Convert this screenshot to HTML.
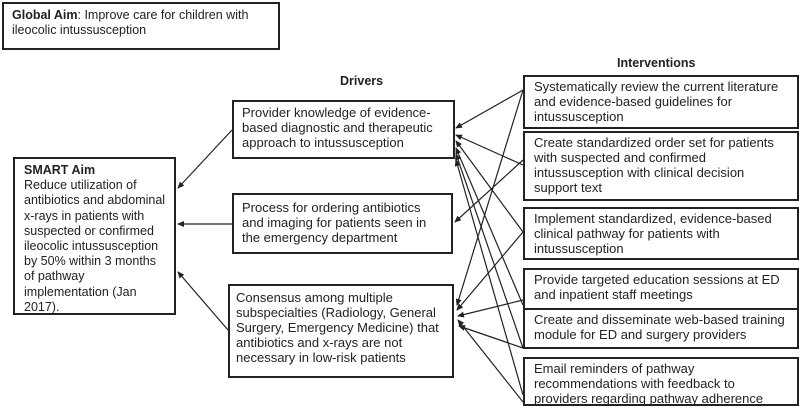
<!DOCTYPE html>
<html><head><style>
body{margin:0;width:800px;height:417px;background:#fff;position:relative;font-family:"Liberation Sans",Arial,sans-serif;color:#222;overflow:hidden}
.b{position:absolute;border:2px solid #222;box-sizing:border-box;font-size:12.5px;line-height:15px;padding:3px 8px}
.i{font-size:13px;line-height:15px;padding:2px 8px 0 9px}
.h{position:absolute;font-weight:bold;font-size:12.5px}
svg{position:absolute;left:0;top:0}
</style></head><body>
<div class="b" style="left:2px;top:2px;width:278px;height:48px;padding:4px 8px">
<b>Global Aim</b>: Improve care for children with ileocolic intussusception</div>
<div class="b" style="left:13px;top:157px;width:163px;height:158px;padding:4px 8px 0 9px;line-height:15.2px"><b>SMART Aim</b><br>Reduce utilization of antibiotics and abdominal x-rays in patients with suspected or confirmed ileocolic intussusception by 50% within 3 months of pathway implementation (Jan 2017).</div>
<div class="h" style="left:340px;top:74px">Drivers</div>
<div class="h" style="left:617px;top:56px">Interventions</div>
<div class="b" style="left:232px;top:100px;width:223px;height:59px;padding:3px 8px;font-size:13px">Provider knowledge of evidence-based diagnostic and therapeutic approach to intussusception</div>
<div class="b" style="left:232px;top:193px;width:221px;height:61px;padding:5px 8px;font-size:13px">Process for ordering antibiotics and imaging for patients seen in the emergency department</div>
<div class="b" style="left:228px;top:284px;width:226px;height:94px;padding:4px 6px;font-size:13px">Consensus among multiple subspecialties (Radiology, General Surgery, Emergency Medicine) that antibiotics and x-rays are not necessary in low-risk patients</div>
<div class="b i" style="left:523px;top:75px;width:276px;height:54px">Systematically review the current literature and evidence-based guidelines for intussusception</div>
<div class="b i" style="left:523px;top:131px;width:276px;height:70px">Create standardized order set for patients with suspected and confirmed intussusception with clinical decision support text</div>
<div class="b i" style="left:523px;top:207px;width:276px;height:53px">Implement standardized, evidence-based clinical pathway for patients with intussusception</div>
<div class="b i" style="left:523px;top:268px;width:276px;height:42px">Provide targeted education sessions at ED and inpatient staff meetings</div>
<div class="b i" style="left:523px;top:308px;width:276px;height:41px">Create and disseminate web-based training module for ED and surgery providers</div>
<div class="b i" style="left:523px;top:357px;width:276px;height:49px">Email reminders of pathway recommendations with feedback to providers regarding pathway adherence</div>
<svg width="800" height="417">
<defs><marker id="a" markerWidth="7" markerHeight="6" refX="6" refY="3" orient="auto" markerUnits="userSpaceOnUse"><path d="M0,0L7,3L0,6z" fill="#222"/></marker></defs>
<g stroke="#222" stroke-width="1.2" fill="none" marker-end="url(#a)">
<line x1="232" y1="130" x2="178" y2="188"/>
<line x1="232" y1="224" x2="178" y2="224"/>
<line x1="228" y1="330" x2="178" y2="272"/>
<line x1="523" y1="90" x2="456" y2="128"/>
<line x1="523" y1="165" x2="456" y2="135"/>
<line x1="523" y1="232" x2="456" y2="141"/>
<line x1="523" y1="305" x2="456" y2="148"/>
<line x1="523" y1="348" x2="456" y2="154"/>
<line x1="523" y1="395" x2="456" y2="160"/>
<line x1="523" y1="90" x2="457" y2="305"/>
<line x1="523" y1="160" x2="455" y2="222"/>
<line x1="523" y1="232" x2="457" y2="310"/>
<line x1="523" y1="300" x2="458" y2="316"/>
<line x1="523" y1="348" x2="459" y2="326"/>
<line x1="523" y1="402" x2="458" y2="320"/>
</g></svg>
</body></html>
